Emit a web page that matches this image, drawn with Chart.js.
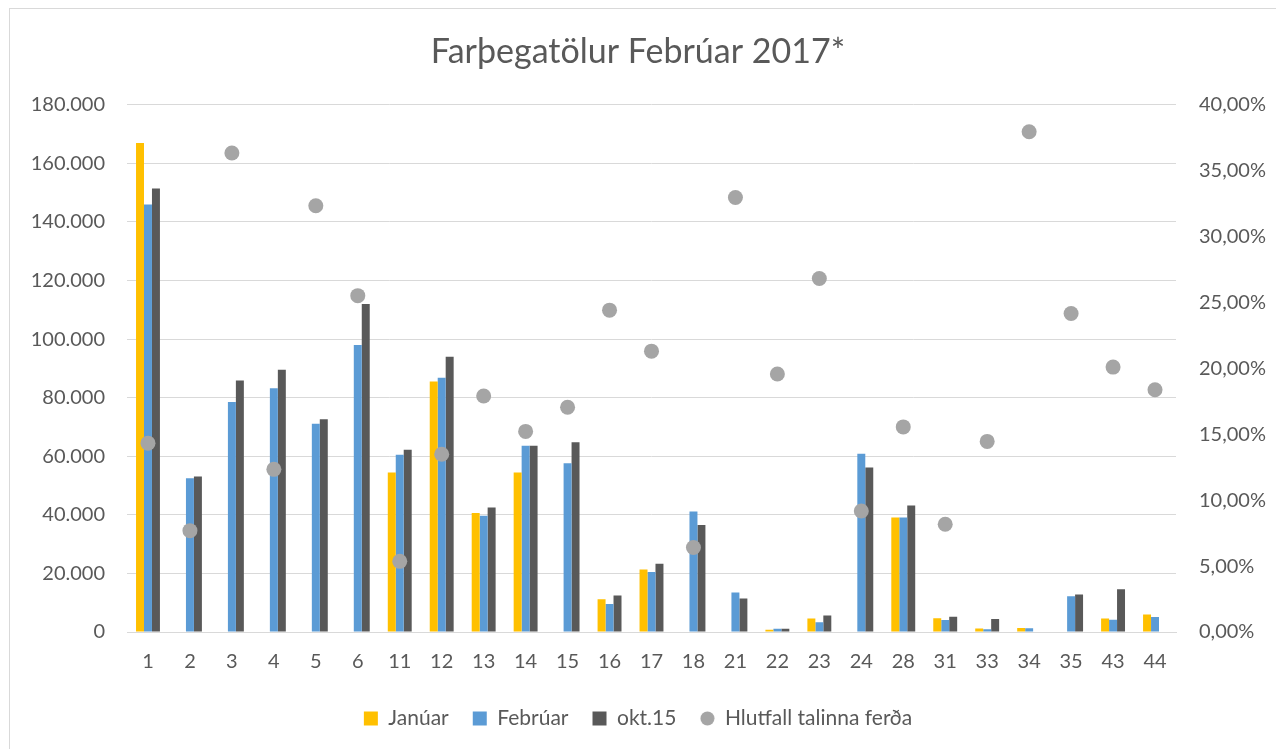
<!DOCTYPE html>
<html>
<head>
<meta charset="utf-8">
<script src="https://cdn.jsdelivr.net/npm/chart.js@4"></script>
<style>
  html, body { margin: 0; padding: 0; background: #fff; }
  #frame { position: absolute; left: 9px; top: 8px; width: 1300px; height: 800px; border: 1px solid #d9d9d9; box-sizing: border-box; }
  #wrap { position: absolute; left: 0; top: 0; width: 1276px; height: 749px; }
</style>
</head>
<body>
<div id="frame"></div>
<div id="wrap"><canvas id="chart" width="1276" height="749"></canvas></div>
<script>
// Flokkar (leiðir)
const leidir = ['1','2','3','4','5','6','11','12','13','14','15','16','17','18','21','22','23','24','28','31','33','34','35','43','44'];

// Farþegatölur
const januar = [167000, null, null, null, null, null, 54500, 85500, 40600, 54500, null, 11200, 21300, null, null, 800, 4600, null, 39100, 4700, 1200, 1400, null, 4600, 6000];
const februar = [146000, 52500, 78500, 83200, 71100, 98000, 60500, 86800, 39700, 63600, 57600, 9600, 20500, 41100, 13500, 1100, 3300, 60900, 39100, 4100, 900, 1300, 12200, 4200, 5100];
const okt15 = [151400, 53100, 85900, 89500, 72600, 112000, 62200, 94000, 42500, 63600, 64800, 12500, 23300, 36500, 11400, 1100, 5600, 56200, 43200, 5200, 4400, null, 12800, 14600, null];

// Hlutfall talinna ferða
const hlutfall = [0.1433, 0.0769, 0.3634, 0.1234, 0.3234, 0.2552, 0.0536, 0.1349, 0.1791, 0.1522, 0.1705, 0.2442, 0.2131, 0.0641, 0.3297, 0.1958, 0.2682, 0.0918, 0.1556, 0.0818, 0.1446, 0.3796, 0.2416, 0.2010, 0.1838];

const textColor = '#595959';
const gridColor = '#d9d9d9';
const fontFam = 'Lato, "Open Sans", sans-serif';

function fmtThousands(v) {
  return Math.round(v).toString().replace(/\B(?=(\d{3})+(?!\d))/g, '.');
}
function fmtPct(v) {
  return (v * 100).toFixed(2).replace('.', ',') + '%';
}

// litli hringurinn í skýringunni
const dot = document.createElement('canvas');
dot.width = 15; dot.height = 15;
const dctx = dot.getContext('2d');
dctx.fillStyle = '#a5a5a5';
dctx.beginPath();
dctx.arc(7.5, 7.5, 7, 0, Math.PI * 2);
dctx.fill();

const ctx = document.getElementById('chart').getContext('2d');
new Chart(ctx, {
  type: 'bar',
  data: {
    labels: leidir,
    datasets: [{
      label: 'Janúar',
      data: januar,
      backgroundColor: '#ffc000',
      pointStyle: 'rect',
      order: 1
    }, {
      label: 'Febrúar',
      data: februar,
      backgroundColor: '#5b9bd5',
      pointStyle: 'rect',
      order: 1
    }, {
      label: 'okt.15',
      data: okt15,
      backgroundColor: '#595959',
      pointStyle: 'rect',
      order: 1
    }, {
      type: 'line',
      label: 'Hlutfall talinna ferða',
      data: hlutfall,
      yAxisID: 'y1',
      showLine: false,
      pointStyle: 'circle',
      pointRadius: 7.5,
      pointHoverRadius: 7.5,
      pointBackgroundColor: '#a5a5a5',
      pointBorderColor: '#a5a5a5',
      backgroundColor: '#a5a5a5',
      borderColor: '#a5a5a5',
      borderWidth: 0,
      order: 0
    }]
  },
  options: {
    responsive: false,
    animation: false,
    datasets: {
      bar: { categoryPercentage: 0.57, barPercentage: 1.0 }
    },
    layout: { padding: { left: 10, right: 10, top: 20, bottom: 10 } },
    plugins: {
      title: {
        display: true,
        text: 'Farþegatölur Febrúar 2017*',
        color: textColor,
        font: { family: fontFam, size: 34, weight: 'normal' },
        padding: { top: 12, bottom: 32 }
      },
      legend: {
        position: 'bottom',
        labels: {
          usePointStyle: true,
          boxWidth: 14,
          boxHeight: 14,
          padding: 24,
          color: textColor,
          font: { family: fontFam, size: 21 },
          sort: (a, b) => a.datasetIndex - b.datasetIndex,
          generateLabels: chart => {
            const items = Chart.defaults.plugins.legend.labels.generateLabels(chart);
            items.forEach(it => { if (it.datasetIndex === 3) it.pointStyle = dot; });
            return items;
          }
        }
      },
      tooltip: { enabled: false }
    },
    scales: {
      x: {
        grid: { display: false },
        border: { display: true, color: gridColor },
        ticks: { color: textColor, font: { family: fontFam, size: 20 }, padding: 10, maxRotation: 0, autoSkip: false }
      },
      y: {
        position: 'left',
        min: 0,
        max: 180000,
        grid: { color: gridColor, drawTicks: false },
        border: { display: false },
        ticks: {
          stepSize: 20000,
          color: textColor,
          font: { family: fontFam, size: 20 },
          padding: 22,
          callback: v => fmtThousands(v)
        },
        afterFit: s => { s.width = 117; }
      },
      y1: {
        position: 'right',
        min: 0,
        max: 0.4,
        grid: { display: false, drawTicks: false },
        border: { display: false },
        ticks: {
          stepSize: 0.05,
          color: textColor,
          font: { family: fontFam, size: 20 },
          padding: 23,
          callback: v => fmtPct(v)
        },
        afterFit: s => { s.width = 90; }
      }
    }
  }
});
</script>
</body>
</html>
